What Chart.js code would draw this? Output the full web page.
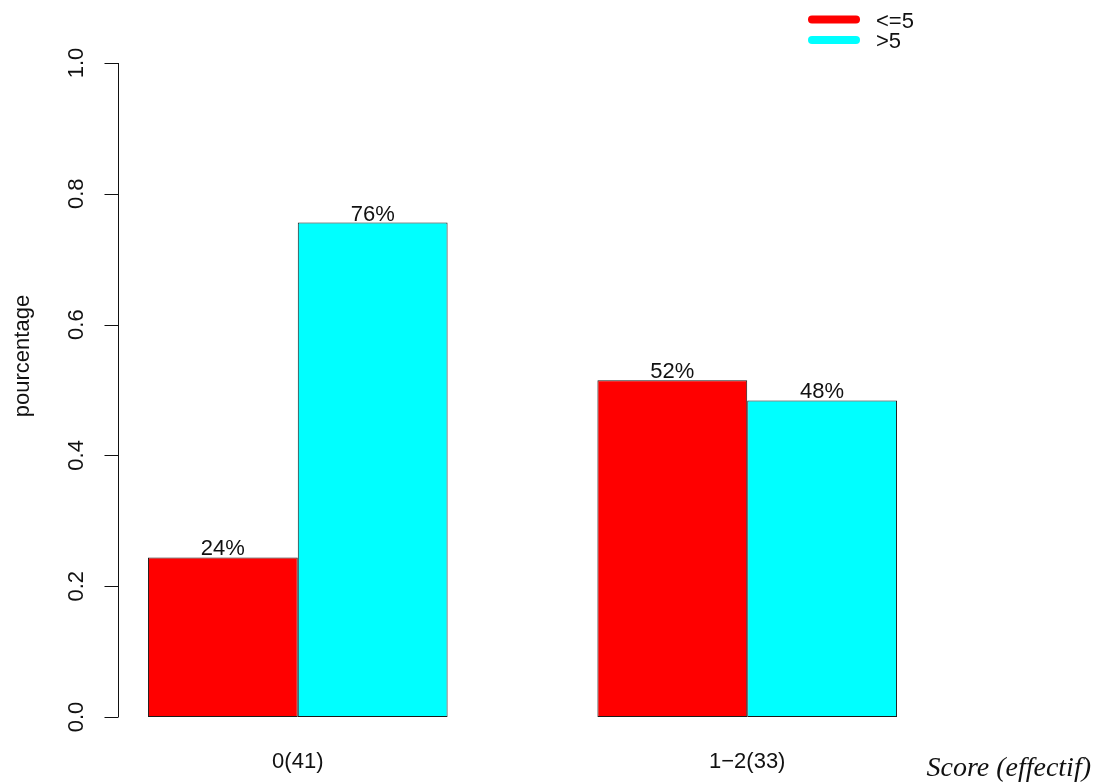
<!DOCTYPE html>
<html>
<head>
<meta charset="utf-8">
<script src="https://cdn.jsdelivr.net/npm/chart.js@4/dist/chart.umd.min.js"></script>
<style>
    body { margin: 0; background: #fff; }
    canvas { display: block; }
</style>
</head>
<body>
<canvas id="score-chart" width="1116" height="782"></canvas>
<script>
const categories = ["0(41)", "1\u22122(33)"];
const seriesLabels = ["<=5", ">5"];
const lowShare = [0.244, 0.515];
const highShare = [0.756, 0.484];
const yTicks = [0, 0.2, 0.4, 0.6, 0.8, 1.0];
const yTickLabels = ["0.0", "0.2", "0.4", "0.6", "0.8", "1.0"];
const yTitle = "pourcentage";
const xTitle = "Score (effectif)";

const colors = {
    red: "#ff0000",
    cyan: "#00ffff",
    border: "#1a1a1a",
    text: "#111111",
};

const sans = "'Liberation Sans', Arial, sans-serif";

// groups sit at 2, 5, ... like R's barplot(beside = TRUE)
function groupPos(i) {
    return 2 + 3 * i;
}

function makeDataset(label, color, values) {
    return {
        label: label,
        data: values.map((v, i) => ({ x: groupPos(i), y: v })),
        backgroundColor: color,
        borderColor: colors.border,
        borderWidth: 1,
        borderSkipped: false,
        categoryPercentage: 2 / 3,
        barPercentage: 1,
    };
}

const rAxes = {
    id: "rAxes",
    afterDraw(chart) {
        const ctx = chart.ctx;
        const x = chart.scales.x;
        const y = chart.scales.y;
        const left = Math.round(x.left) + 0.5;

        ctx.save();
        ctx.strokeStyle = colors.text;
        ctx.fillStyle = colors.text;
        ctx.lineWidth = 1;

        // y axis line and ticks
        ctx.beginPath();
        ctx.moveTo(left, y.getPixelForValue(yTicks[0]));
        ctx.lineTo(left, y.getPixelForValue(yTicks[yTicks.length - 1]));
        yTicks.forEach(v => {
            const py = Math.round(y.getPixelForValue(v)) + 0.5;
            ctx.moveTo(left - 14, py);
            ctx.lineTo(left, py);
        });
        ctx.stroke();

        // rotated tick labels
        ctx.font = "22px " + sans;
        ctx.textAlign = "center";
        ctx.textBaseline = "alphabetic";
        yTicks.forEach((v, i) => {
            ctx.save();
            ctx.translate(83, y.getPixelForValue(v));
            ctx.rotate(-Math.PI / 2);
            ctx.fillText(yTickLabels[i], 0, 0);
            ctx.restore();
        });

        ctx.save();
        ctx.translate(29, 356);
        ctx.rotate(-Math.PI / 2);
        ctx.fillText(yTitle, 0, 0);
        ctx.restore();

        // group labels
        categories.forEach((c, i) => {
            ctx.fillText(c, x.getPixelForValue(groupPos(i)), 768);
        });

        ctx.font = "italic 28px 'Liberation Serif', 'Times New Roman', serif";
        ctx.textAlign = "right";
        ctx.fillText(xTitle, 1091, 776);

        // value labels on top of bars
        ctx.font = "22px " + sans;
        ctx.textAlign = "center";
        chart.data.datasets.forEach((ds, di) => {
            chart.getDatasetMeta(di).data.forEach((bar, i) => {
                const v = ds.data[i].y;
                ctx.fillText(Math.round(v * 100) + "%", bar.x, bar.y - 2);
            });
        });

        // legend
        ctx.lineCap = "round";
        ctx.lineWidth = 8;
        ctx.textAlign = "left";
        chart.data.datasets.forEach((ds, di) => {
            const ly = 19.5 + di * 20.5;
            ctx.strokeStyle = ds.backgroundColor;
            ctx.beginPath();
            ctx.moveTo(812, ly);
            ctx.lineTo(856, ly);
            ctx.stroke();
            ctx.fillText(ds.label, 876, ly + 8);
        });

        ctx.restore();
    },
};

new Chart(
    document.getElementById("score-chart"),
    {
        type: "bar",
        data: {
            datasets: [
                makeDataset(seriesLabels[0], colors.red, lowShare),
                makeDataset(seriesLabels[1], colors.cyan, highShare),
            ],
        },
        options: {
            responsive: false,
            animation: false,
            layout: {
                padding: { left: 118, top: 63, right: 189, bottom: 65 },
            },
            scales: {
                x: {
                    type: "linear",
                    min: 0.8,
                    max: 6.2,
                    offset: false,
                    display: false,
                    afterBuildTicks: scale => {
                        scale.ticks = categories.map((c, i) => ({ value: groupPos(i) }));
                    },
                },
                y: {
                    min: 0,
                    max: 1,
                    display: false,
                },
            },
            plugins: {
                legend: { display: false },
                tooltip: { enabled: false },
            },
        },
        plugins: [rAxes],
    },
);
</script>
</body>
</html>
